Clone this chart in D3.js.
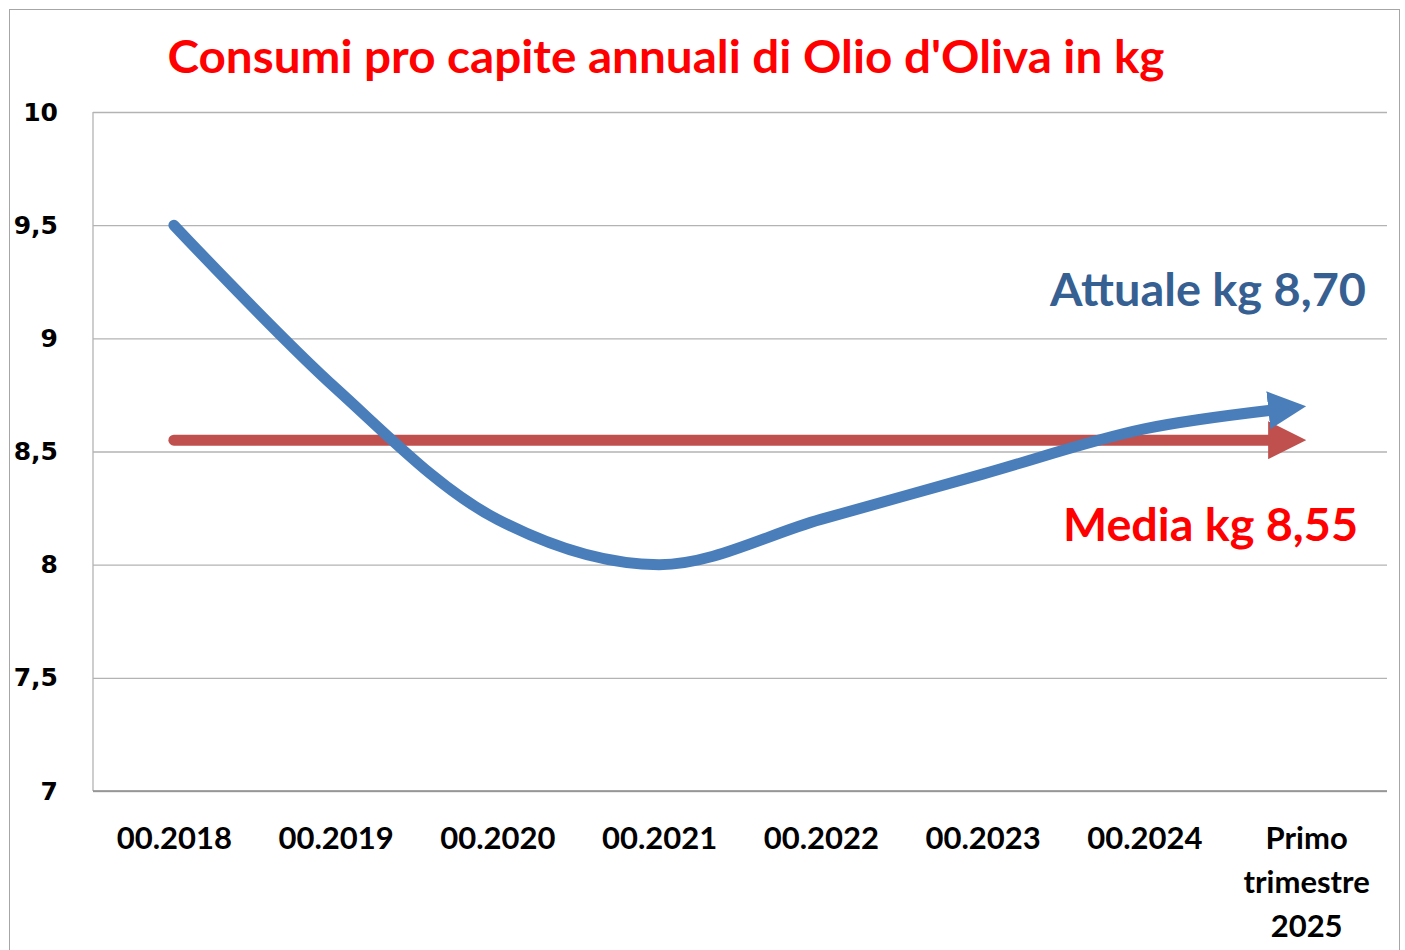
<!DOCTYPE html>
<html>
<head>
<meta charset="utf-8">
<script src="https://cdn.jsdelivr.net/npm/d3@7"></script>
<style>
  body { margin: 0; background: #fff; }
  svg { display: block; }
</style>
</head>
<body>
<svg width="1405" height="950"></svg>
<script>
"use strict";

// Data (kg per capita)
const categories = ["00.2018", "00.2019", "00.2020", "00.2021", "00.2022", "00.2023", "00.2024", "Primo trimestre 2025"];
const attualeValues = [9.5, 8.78, 8.2, 8.0, 8.2, 8.4, 8.6, 8.7];
const mediaValue = 8.55;
const yTicks = [7, 7.5, 8, 8.5, 9, 9.5, 10];

const titleText = "Consumi pro capite annuali di Olio d'Oliva in kg";
const attualeLabel = "Attuale kg 8,70";
const mediaLabel = "Media kg 8,55";

const svg = d3.select("svg");
const plotLeft = 93, plotRight = 1387, plotTop = 112, plotBottom = 791;

const x = d3.scalePoint()
    .domain(categories)
    .range([plotLeft, plotRight])
    .padding(0.5);

const y = d3.scaleLinear()
    .domain([7, 10])
    .range([plotBottom, plotTop]);

// outer frame
svg.append("rect")
    .attr("x", 9.5).attr("y", 9.5)
    .attr("width", 1390).attr("height", 980)
    .attr("fill", "#fff")
    .attr("stroke", "#a6a6a6");

// title
svg.append("text")
    .attr("x", 666).attr("y", 73)
    .attr("text-anchor", "middle")
    .attr("font-family", "Lato, sans-serif")
    .attr("font-weight", "bold")
    .attr("font-size", 46)
    .attr("fill", "#ff0000")
    .attr("textLength", 997)
    .attr("lengthAdjust", "spacingAndGlyphs")
    .text(titleText);

// gridlines
const grid = svg.append("g")
    .attr("transform", `translate(${plotLeft},0)`)
    .call(d3.axisLeft(y).tickValues(yTicks).tickSize(-(plotRight - plotLeft)).tickFormat(""));
grid.select(".domain").remove();
grid.selectAll(".tick line").attr("stroke", "#b3b3b3").attr("stroke-width", 1.3);

// left axis line
svg.append("line")
    .attr("x1", plotLeft).attr("x2", plotLeft)
    .attr("y1", y(10)).attr("y2", y(7))
    .attr("stroke", "#b3b3b3").attr("stroke-width", 1.3);

// y labels
const yAxis = svg.append("g")
    .attr("transform", `translate(58,0)`)
    .call(d3.axisLeft(y).tickValues(yTicks).tickSize(0).tickPadding(0)
        .tickFormat(d => String(d).replace(".", ",")));
yAxis.select(".domain").remove();
yAxis.selectAll("text")
    .attr("font-family", "'DejaVu Sans', Verdana, sans-serif")
    .attr("font-weight", "bold")
    .attr("font-size", 25)
    .attr("fill", "#000");

// x axis
const xAxis = svg.append("g")
    .attr("transform", `translate(0,${plotBottom})`)
    .call(d3.axisBottom(x).tickSize(0).tickFormat(""));
xAxis.select(".domain")
    .attr("d", `M${plotLeft},0H${plotRight}`)
    .attr("stroke", "#8c8c8c").attr("stroke-width", 1.5);

xAxis.selectAll(".tick").each(function(d) {
    const t = d3.select(this).append("text")
        .attr("text-anchor", "middle")
        .attr("font-family", "Lato, sans-serif")
        .attr("font-weight", "bold")
        .attr("font-size", 31)
        .attr("fill", "#000");
    d.split(" ").forEach((w, i) => {
        t.append("tspan").attr("x", 0).attr("y", 58 + i * 44).text(w);
    });
});

// arrow markers
const defs = svg.append("defs");
function addArrow(id, color) {
    defs.append("marker")
        .attr("id", id)
        .attr("markerUnits", "userSpaceOnUse")
        .attr("viewBox", "0 0 38 38")
        .attr("markerWidth", 38).attr("markerHeight", 38)
        .attr("refX", 38).attr("refY", 19)
        .attr("orient", "auto")
        .append("path")
        .attr("d", "M0,0L38,19L0,38Z")
        .attr("fill", color);
}
addArrow("arrowRed", "#c0504d");
addArrow("arrowBlue", "#4a7ebb");

function drawArrowLine(pathData, color, markerId) {
    const p = svg.append("path")
        .attr("d", pathData)
        .attr("fill", "none")
        .attr("stroke", color)
        .attr("stroke-width", 11)
        .attr("stroke-linecap", "round")
        .attr("stroke-linejoin", "round")
        .attr("marker-end", `url(#${markerId})`);
    const len = p.node().getTotalLength();
    p.attr("stroke-dasharray", `${len - 24} ${len}`);
    return p;
}

// media line
const mediaLine = d3.line()
    .x(d => x(d))
    .y(() => y(mediaValue));
drawArrowLine(mediaLine(categories), "#c0504d", "arrowRed");

// attuale (smoothed) line
const attualeLine = d3.line()
    .x((d, i) => x(categories[i]))
    .y(d => y(d))
    .curve(d3.curveCatmullRom.alpha(0.5));
drawArrowLine(attualeLine(attualeValues), "#4a7ebb", "arrowBlue");

// annotations
svg.append("text")
    .attr("x", 1366).attr("y", 306)
    .attr("text-anchor", "end")
    .attr("font-family", "Lato, sans-serif")
    .attr("font-weight", "bold")
    .attr("font-size", 45)
    .attr("fill", "#376092")
    .attr("textLength", 316)
    .attr("lengthAdjust", "spacingAndGlyphs")
    .text(attualeLabel);

svg.append("text")
    .attr("x", 1358).attr("y", 541)
    .attr("text-anchor", "end")
    .attr("font-family", "Lato, sans-serif")
    .attr("font-weight", "bold")
    .attr("font-size", 45)
    .attr("fill", "#ff0000")
    .attr("textLength", 295)
    .attr("lengthAdjust", "spacingAndGlyphs")
    .text(mediaLabel);
</script>
</body>
</html>
